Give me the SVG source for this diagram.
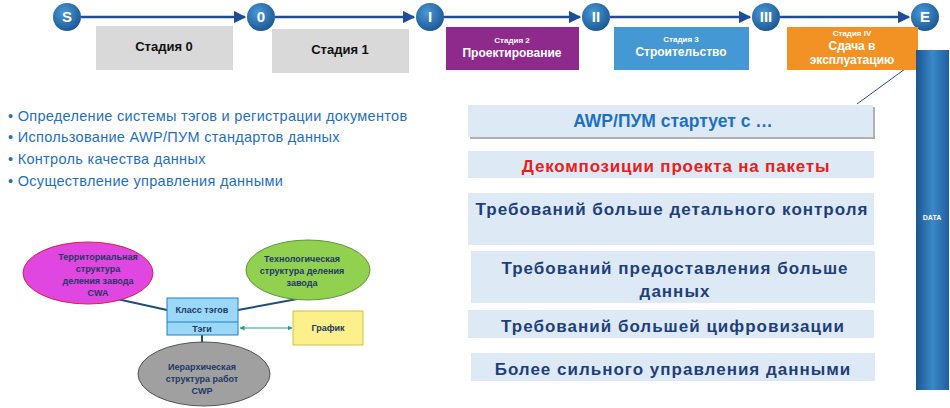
<svg xmlns="http://www.w3.org/2000/svg" width="950" height="408" viewBox="0 0 950 408">
<defs>
<marker id="ah" viewBox="0 0 10 10" refX="9" refY="5" markerWidth="5" markerHeight="5" orient="auto"><path d="M0,0L10,5L0,10z" fill="#1f4e96"/></marker>
<marker id="gh" viewBox="0 0 10 10" refX="9" refY="5" markerWidth="5" markerHeight="5" orient="auto-start-reverse"><path d="M0,0L10,5L0,10z" fill="#20a090"/></marker>
<radialGradient id="cg" cx="0.4" cy="0.35" r="0.7"><stop offset="0" stop-color="#4a9ad6"/><stop offset="1" stop-color="#1a5590"/></radialGradient>
<linearGradient id="bar" x1="0" x2="1"><stop offset="0" stop-color="#1a5590"/><stop offset="0.5" stop-color="#3b88c8"/><stop offset="1" stop-color="#1f5fa0"/></linearGradient>
</defs>
<style>
text{font-family:"Liberation Sans",Arial,sans-serif;font-weight:bold;text-anchor:middle}
.c{fill:url(#cg)}
.ct{fill:#fff;font-size:15px}
.g{fill:#d9d9d9}
.rb{fill:#ddeaf6}
.rt{fill:#1f3f7a;font-size:17px;letter-spacing:1px}
.bl{fill:#1f6fc5;font-size:14.5px;font-weight:normal;text-anchor:start;letter-spacing:0.3px}
.dk{fill:#1f3864;font-size:9px}
</style>
<g id="connectors" fill="none">
<line x1="81" y1="17" x2="245" y2="17" stroke="#1f4e96" stroke-width="2.5" marker-end="url(#ah)"/>
<line x1="275" y1="17" x2="414" y2="17" stroke="#1f4e96" stroke-width="2.5" marker-end="url(#ah)"/>
<line x1="444" y1="17" x2="580" y2="17" stroke="#1f4e96" stroke-width="2.5" marker-end="url(#ah)"/>
<line x1="610" y1="17" x2="750" y2="17" stroke="#1f4e96" stroke-width="2.5" marker-end="url(#ah)"/>
<line x1="780" y1="17" x2="909" y2="17" stroke="#1f4e96" stroke-width="2.5" marker-end="url(#ah)"/>
<line x1="931" y1="50" x2="857" y2="104" stroke="#1f4e96" stroke-width="1"/>
<line x1="108" y1="297" x2="167" y2="310" stroke="#1f4e7a" stroke-width="2"/>
<line x1="238" y1="310" x2="308" y2="297" stroke="#1f4e7a" stroke-width="2"/>
<line x1="202" y1="335" x2="202" y2="350" stroke="#1f4e7a" stroke-width="2"/>
<line x1="240" y1="328" x2="292" y2="328" stroke="#20a090" stroke-width="1" marker-start="url(#gh)" marker-end="url(#gh)"/>
</g>
<g id="timeline">
<circle class="c" cx="67" cy="17" r="14"/><text class="ct" x="67" y="22">S</text>
<circle class="c" cx="261" cy="17" r="14"/><text class="ct" x="261" y="22">0</text>
<circle class="c" cx="430" cy="17" r="14"/><text class="ct" x="430" y="22">I</text>
<circle class="c" cx="596" cy="17" r="14"/><text class="ct" x="596" y="22">II</text>
<circle class="c" cx="766" cy="17" r="14"/><text class="ct" x="766" y="22">III</text>
<circle class="c" cx="925" cy="17" r="14"/><text class="ct" x="925" y="22">E</text>
</g>
<g id="stage0"><rect class="g" x="96" y="26" width="137" height="44"/><text x="164" y="51" font-size="13" fill="#111">Стадия 0</text></g>
<g id="stage1"><rect class="g" x="272" y="29" width="137" height="44"/><text x="340" y="54" font-size="13" fill="#111">Стадия 1</text></g>
<g id="stage2"><rect x="446" y="27" width="133" height="43" fill="#8e2a8c"/><text x="512" y="43" font-size="8" fill="#fff">Стадия 2</text><text x="512" y="57" font-size="12" fill="#fff">Проектирование</text></g>
<g id="stage3"><rect x="614" y="27" width="135" height="43" fill="#4498d4"/><text x="681" y="42" font-size="8" fill="#fff">Стадия 3</text><text x="681" y="56" font-size="12" fill="#fff">Строительство</text></g>
<g id="stage4"><rect x="787" y="27" width="131" height="43" fill="#f39224"/><text x="852" y="36" font-size="8" fill="#fff">Стадия IV</text><text x="852" y="50" font-size="12" fill="#fff">Сдача в</text><text x="852" y="64" font-size="12" fill="#fff">эксплуатацию</text></g>
<g id="data"><rect x="916" y="50" width="33" height="340" fill="url(#bar)"/><text x="932" y="220" font-size="7" fill="#fff">DATA</text></g>
<g id="bullets">
<text class="bl" x="8" y="121">•  Определение системы тэгов и регистрации документов</text>
<text class="bl" x="8" y="142">•  Использование AWP/ПУМ стандартов данных</text>
<text class="bl" x="8" y="164">•  Контроль качества данных</text>
<text class="bl" x="8" y="186">•  Осуществление управления данными</text>
</g>
<g id="r1"><rect x="470" y="107" width="405" height="32" fill="#b0b0b0"/><rect class="rb" x="468" y="105" width="405" height="32"/><text x="673" y="127" font-size="17.5" fill="#1f6fc5">AWP/ПУМ стартует с …</text></g>
<g id="r2"><rect class="rb" x="468" y="151" width="406" height="27"/><text x="676" y="172" font-size="17" letter-spacing="0.8" fill="#e8201a">Декомпозиции проекта на пакеты</text></g>
<g id="r3"><rect class="rb" x="468" y="193" width="406" height="52"/><text class="rt" x="672" y="215">Требований больше детального контроля</text></g>
<g id="r4"><rect class="rb" x="471" y="251" width="404" height="52"/><text class="rt" x="675" y="274">Требований предоставления больше</text><text class="rt" x="675" y="297">данных</text></g>
<g id="r5"><rect class="rb" x="468" y="310" width="406" height="28"/><text class="rt" x="673" y="332">Требований  большей цифровизации</text></g>
<g id="r6"><rect class="rb" x="471" y="353" width="404" height="28"/><text class="rt" x="673" y="375">Более сильного управления данными</text></g>
<g id="cwa"><ellipse cx="88" cy="273" rx="65" ry="31" fill="#e046e0" stroke="#e02040" stroke-width="1"/>
<text class="dk" x="98" y="260">Территориальная</text><text class="dk" x="98" y="272">структура</text><text class="dk" x="98" y="284">деления завода</text><text class="dk" x="98" y="296">CWA</text></g>
<g id="tech"><ellipse cx="308" cy="270" rx="62" ry="30" fill="#92d050" stroke="#5a9a3a" stroke-width="1"/>
<text class="dk" x="302" y="262">Технологическая</text><text class="dk" x="302" y="274">структура деления</text><text class="dk" x="302" y="286">завода</text></g>
<g id="tags"><rect x="167" y="298" width="71" height="37" fill="#9bd8f8" stroke="#2080c0"/><line x1="167" y1="322" x2="238" y2="322" stroke="#2080c0"/>
<text class="dk" x="202" y="313" font-size="8">Класс тэгов</text><text class="dk" x="202" y="332">Тэги</text></g>
<g id="sched"><rect x="293" y="311" width="70" height="34" fill="#fbf08a" stroke="#d4c040"/><text class="dk" x="328" y="331" font-size="8">График</text></g>
<g id="cwp"><ellipse cx="204" cy="374" rx="66" ry="32" fill="#a0a0a0" stroke="#555"/>
<text class="dk" x="202" y="370">Иерархическая</text><text class="dk" x="202" y="382">структура работ</text><text class="dk" x="202" y="394">CWP</text></g>
</svg>
